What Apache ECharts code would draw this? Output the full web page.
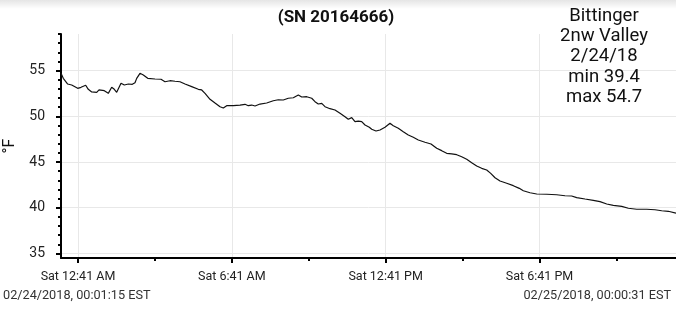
<!DOCTYPE html>
<html><head><meta charset="utf-8">
<script src="https://cdn.jsdelivr.net/npm/echarts@6/dist/echarts.min.js"></script>
<style>html,body{margin:0;padding:0;background:#fff}#c{width:676px;height:310px}</style>
</head><body><div id="c"></div>
<script>
// minutes since 2/24/18 00:00 EST
const minutes = [1.25, 6.6, 16.9, 26.3, 40.3, 48.1, 59.0, 65.1, 73.1, 84.8,
  90.2, 102.6, 111.9, 119.9, 126.0, 131.6, 141.7, 149.4, 158.8, 168.1,
  174.4, 178.4, 186.1, 193.9, 204.2, 221.2, 235.3, 244.6, 256.3, 268.0,
  279.7, 291.5, 307.1, 322.6, 330.5, 338.3, 350.0, 361.7, 373.4, 381.1,
  389.0, 404.5, 420.2, 431.9, 439.6, 447.5, 455.3, 467.0, 482.6, 498.1,
  509.8, 521.5, 533.2, 544.9, 556.6, 564.6, 576.3, 588.0, 595.7, 603.4,
  611.4, 619.1, 630.8, 642.5, 654.2, 665.9, 673.6, 681.6, 689.3, 697.0,
  705.0, 712.7, 722.8, 728.4, 738.4, 747.8, 759.5, 771.2, 778.9, 790.6,
  802.3, 814.0, 825.7, 837.4, 853.1, 867.2, 880.5, 892.2, 903.9, 915.6,
  927.3, 939.0, 950.7, 962.4, 974.1, 985.8, 997.5, 1006.9, 1017.0, 1028.7,
  1044.3, 1059.8, 1073.8, 1083.2, 1098.9, 1114.6, 1138.0, 1161.3, 1180.8, 1196.4,
  1208.1, 1227.6, 1247.0, 1262.7, 1278.4, 1293.8, 1313.5, 1329.0, 1348.6, 1372.0,
  1391.4, 1407.1, 1422.6, 1440.5];
const temps = [54.7, 54.15, 53.53, 53.42, 53.06, 53.17, 53.39, 52.95, 52.66, 52.62,
  52.88, 52.80, 52.51, 53.17, 52.95, 52.62, 53.61, 53.42, 53.53, 53.50,
  53.67, 54.15, 54.7, 54.52, 54.15, 54.08, 54.05, 53.78, 53.89, 53.83,
  53.78, 53.53, 53.24, 52.95, 52.88, 52.51, 51.86, 51.45, 51.05, 50.91,
  51.16, 51.16, 51.23, 51.31, 51.16, 51.23, 51.13, 51.34, 51.45, 51.70,
  51.81, 51.78, 51.97, 52.03, 52.33, 52.11, 52.14, 51.97, 51.60, 51.34,
  51.42, 51.05, 50.83, 50.69, 50.33, 49.95, 49.67, 49.85, 49.41, 49.48,
  49.41, 49.05, 48.80, 48.58, 48.39, 48.50, 48.80, 49.23, 48.97, 48.69,
  48.31, 47.95, 47.70, 47.41, 47.16, 46.97, 46.50, 46.24, 45.95, 45.88,
  45.80, 45.58, 45.30, 44.92, 44.56, 44.31, 44.13, 43.76, 43.28, 42.92,
  42.67, 42.41, 42.12, 41.86, 41.64, 41.50, 41.47, 41.42, 41.31, 41.28,
  41.10, 40.95, 40.81, 40.66, 40.41, 40.26, 40.15, 39.94, 39.83, 39.83,
  39.78, 39.67, 39.61, 39.4];
const majorTickMinutes = [41, 401, 761, 1121];
const majorTickLabels = ['Sat 12:41 AM', 'Sat 6:41 AM', 'Sat 12:41 PM', 'Sat 6:41 PM'];
const minorTickMinutes = [221, 581, 941, 1301];
const yMajorTicks = [35, 40, 45, 50, 55];
const yMinorTicks = [36, 37, 38, 39, 41, 42, 43, 44, 46, 47, 48, 49, 51, 52, 53, 54, 56, 57, 58, 59];
const xMin = 1.25, xMax = 1440.52;
const yMin = 34.5, yMax = 59;
const titleText = '(SN 20164666)';
const infoLines = ['Bittinger', '2nw Valley', '2/24/18', 'min 39.4', 'max 54.7'];
const startLabel = '02/24/2018, 00:01:15 EST';
const endLabel = '02/25/2018, 00:00:31 EST';
const yName = '°F';

const FONT = 'Roboto';
const chart = echarts.init(document.getElementById('c'), null, {renderer: 'canvas'});
const gridLine = {show: true, lineStyle: {color: '#e8e8e8', width: 1}};
chart.setOption({
  animation: false,
  backgroundColor: '#fff',
  graphic: [{
    type: 'rect', z: -10, silent: true,
    shape: {x: 0, y: 0, width: 676, height: 9},
    style: {fill: new echarts.graphic.LinearGradient(0, 0, 0, 1, [
      {offset: 0, color: 'rgba(0,0,0,0.10)'}, {offset: 1, color: 'rgba(0,0,0,0)'}])}
  }],
  title: [
    {text: titleText, left: 336, top: 8, textAlign: 'center', padding: 0,
     textStyle: {fontFamily: FONT, fontSize: 17, fontWeight: 'bold', color: '#111', lineHeight: 20}},
    {text: infoLines.join('\n'), left: 604, top: 6, textAlign: 'center', padding: 0,
     textStyle: {fontFamily: FONT, fontSize: 18.5, fontWeight: 'normal', color: '#111', lineHeight: 20.3}},
    {text: startLabel, left: 3, top: 288, padding: 0,
     textStyle: {fontFamily: FONT, fontSize: 12.7, fontWeight: 'normal', color: '#333', lineHeight: 15}},
    {text: endLabel, right: 5, top: 288, padding: 0,
     textStyle: {fontFamily: FONT, fontSize: 12.7, fontWeight: 'normal', color: '#333', lineHeight: 15}}
  ],
  grid: {left: 61, right: 0, top: 34, bottom: 52, containLabel: false, outerBoundsMode: 'none'},
  xAxis: [{
    type: 'value', position: 'bottom', min: xMin, max: xMax,
    axisLine: {show: true, onZero: false, lineStyle: {color: '#000', width: 2}},
    axisTick: {show: true, customValues: majorTickMinutes, length: 5, lineStyle: {color: '#000', width: 2}},
    axisLabel: {show: true, customValues: majorTickMinutes, margin: 12, fontFamily: FONT, fontSize: 12.5, color: '#222',
      formatter: v => majorTickLabels[majorTickMinutes.indexOf(v)] || ''},
    splitLine: gridLine
  }, {
    type: 'value', position: 'bottom', min: xMin, max: xMax,
    axisLine: {show: false},
    axisTick: {show: true, customValues: minorTickMinutes, length: 3, lineStyle: {color: '#000', width: 2}},
    axisLabel: {show: false},
    splitLine: {show: false}
  }],
  yAxis: [{
    type: 'value', position: 'left', min: yMin, max: yMax,
    name: yName, nameLocation: 'middle', nameGap: 39, nameRotate: 90,
    nameTextStyle: {fontFamily: FONT, fontSize: 16, color: '#111'},
    axisLine: {show: true, onZero: false, lineStyle: {color: '#000', width: 2}},
    axisTick: {show: true, customValues: yMajorTicks, length: 5, lineStyle: {color: '#000', width: 2}},
    axisLabel: {show: true, customValues: yMajorTicks, margin: 16, fontFamily: FONT, fontSize: 14, color: '#222'},
    splitLine: gridLine
  }, {
    type: 'value', position: 'left', min: yMin, max: yMax,
    axisLine: {show: false},
    axisTick: {show: true, customValues: yMinorTicks, length: 3, lineStyle: {color: '#000', width: 2}},
    axisLabel: {show: false},
    splitLine: {show: false}
  }],
  series: [{
    type: 'line', xAxisIndex: 0, yAxisIndex: 0,
    data: minutes.map((m, i) => [m, temps[i]]),
    showSymbol: false, smooth: false,
    lineStyle: {color: '#111', width: 1.2}
  }]
});
</script>
</body></html>
